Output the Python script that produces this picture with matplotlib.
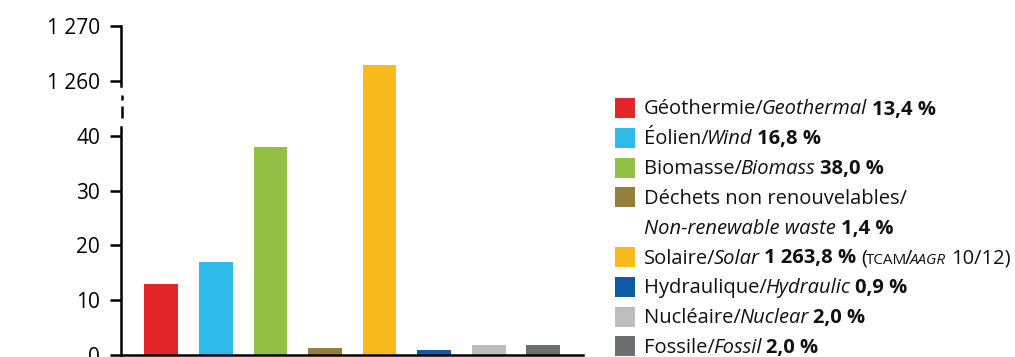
import matplotlib
matplotlib.use("Agg")
import matplotlib.pyplot as plt
from matplotlib.patches import Rectangle
from matplotlib.lines import Line2D

plt.rcParams['font.family'] = ['Open Sans', 'DejaVu Sans']

# data
sources = ["Géothermie", "Éolien", "Biomasse", "Déchets", "Solaire", "Hydraulique", "Nucléaire", "Fossile"]
values = [13.0, 16.9, 38.0, 1.3, 1263.0, 0.9, 1.8, 1.8]
colors = ["#E3262A", "#2EBBEA", "#92BF44", "#957F3A", "#F9BA1B", "#0F5CA6", "#BDBDBF", "#6D6E70"]

low_ticks = [0, 10, 20, 30, 40]
low_labels = ["0", "10", "20", "30", "40"]
high_ticks = [1260, 1270]
high_labels = ["1 260", "1 270"]

# legend rows: (colour index or None, list of (text, style))
legend_rows = [
    (0, [("Géothermie/", "r"), ("Geothermal", "i"), (" 13,4 %", "b")]),
    (1, [("Éolien/", "r"), ("Wind", "i"), (" 16,8 %", "b")]),
    (2, [("Biomasse/", "r"), ("Biomass", "i"), (" 38,0 %", "b")]),
    (3, [("Déchets non renouvelables/", "r")]),
    (None, [("Non-renewable waste", "i"), (" 1,4 %", "b")]),
    (4, [("Solaire/", "r"), ("Solar", "i"), (" 1 263,8 %", "b"), (" (", "r"),
         ("TCAM", "sc"), ("/", "r"), ("AAGR", "sci"), (" 10/12)", "r")]),
    (5, [("Hydraulique/", "r"), ("Hydraulic", "i"), (" 0,9 %", "b")]),
    (6, [("Nucléaire/", "r"), ("Nuclear", "i"), (" 2,0 %", "b")]),
    (7, [("Fossile/", "r"), ("Fossil", "i"), (" 2,0 %", "b")]),
]

W, H = 1015, 357
fig = plt.figure(figsize=(W / 100, H / 100), dpi=100)


def box(x0, x1, ytop, ybot):
    return [x0 / W, 1 - ybot / H, (x1 - x0) / W, (ybot - ytop) / H]


# upper axes reaches down into the gap so the solar bar stays continuous
ax_hi = fig.add_axes(box(121, 583, 26, 127))
ax_lo = fig.add_axes(box(121, 583, 127, 355))

x = range(len(values))
for a in (ax_hi, ax_lo):
    a.bar(x, values, width=0.62, color=colors)
    a.set_xlim(-0.74, 7.73)
    a.set_xticks([])
    a.patch.set_visible(False)
    for s in ["top", "right"]:
        a.spines[s].set_visible(False)
    a.spines["left"].set_linewidth(1.8)
    a.tick_params(axis="y", length=8, width=1.8, pad=7, labelsize=15)

ax_hi.set_ylim(1270 - 101 / 5.5, 1270)
ax_hi.spines["bottom"].set_visible(False)
ax_hi.spines["left"].set_bounds(1270 - 60 / 5.5, 1270)
ax_hi.set_yticks(high_ticks)
ax_hi.set_yticklabels(high_labels)

ax_lo.set_ylim(0, 41.6)
ax_lo.spines["bottom"].set_linewidth(1.8)
ax_lo.set_yticks(low_ticks)
ax_lo.set_yticklabels(low_labels)

# axis break marks
xb = 121.5 / W
for y0, y1 in [(95, 100), (106, 118)]:
    fig.add_artist(Line2D([xb, xb], [1 - y0 / H, 1 - y1 / H], color="black", lw=1.8,
                          solid_capstyle="butt"))

# legend
lax = fig.add_axes([0, 0, 1, 1])
lax.set_xlim(0, W)
lax.set_ylim(H, 0)
lax.axis("off")
renderer = fig.canvas.get_renderer()

fs = 14.5
styles = {
    "r": dict(fontsize=fs),
    "i": dict(fontsize=fs, style="italic"),
    "b": dict(fontsize=fs, weight="bold"),
    "sc": dict(fontsize=11),
    "sci": dict(fontsize=11, style="italic"),
}
space_w = 7

for i, (ci, parts) in enumerate(legend_rows):
    yc = 108 + 29.8 * i
    if ci is not None:
        lax.add_patch(Rectangle((615, yc - 10), 20, 20, color=colors[ci], lw=0))
    xt = 644
    for txt, st in parts:
        if txt.startswith(" "):
            xt += space_w
            txt = txt[1:]
        t = lax.text(xt, yc + 6.5, txt, va="baseline", ha="left", color="#111111", **styles[st])
        xt += t.get_window_extent(renderer).width - 2

fig.savefig("out.png", dpi=100)
